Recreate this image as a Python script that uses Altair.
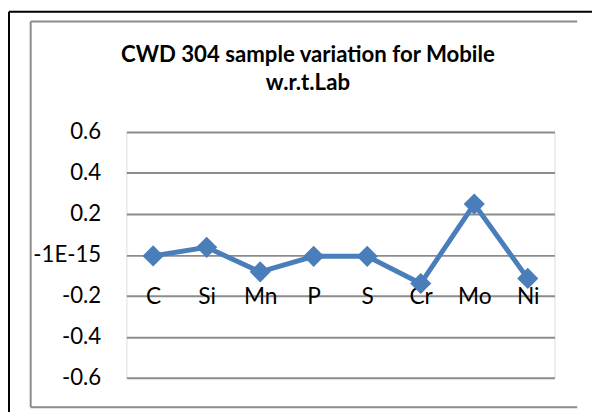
import altair as alt
import pandas as pd

# ---- data ----
elements = ["C", "Si", "Mn", "P", "S", "Cr", "Mo", "Ni"]
variation = [-0.005, 0.037, -0.083, -0.007, -0.007, -0.14, 0.248, -0.115]
y_tick_values = [-0.6, -0.4, -0.2, 0.0, 0.2, 0.4, 0.6]
y_tick_labels = ["-0.6", "-0.4", "-0.2", "-1E-15", "0.2", "0.4", "0.6"]
title_lines = ["CWD 304 sample variation for Mobile", "w.r.t.Lab"]

df = pd.DataFrame({"element": elements, "value": variation})

# label expression built from the tick lists
expr = "''"
for v, lab in zip(y_tick_values, y_tick_labels):
    expr = f"abs(datum.value - ({v})) < 1e-9 ? '{lab}' : ({expr})"

FONT = "Lato"
BLUE = "#4A7EBB"
GRID = "#8C8C8C"

W, H = 434, 249

x_enc = alt.X(
    "element:N",
    sort=elements,
    scale=alt.Scale(type="point", padding=0.5),
    axis=alt.Axis(
        title=None, domain=False, ticks=False, tickSize=0, grid=False,
        labelAngle=0, labelFont=FONT, labelFontSize=23, labelColor="black",
        labelBaseline="top", labelPadding=0, offset=-93,
    ),
)
y_enc = alt.Y(
    "value:Q",
    scale=alt.Scale(domain=[-0.6, 0.6], nice=False, zero=False),
    axis=alt.Axis(
        title=None, domain=False, ticks=False, tickSize=0,
        values=y_tick_values, labelExpr=expr,
        labelFont=FONT, labelFontSize=22.5, labelColor="black",
        labelPadding=26, grid=True, gridColor=GRID, gridWidth=2,
    ),
)

line = alt.Chart(df).mark_line(color=BLUE, strokeWidth=5).encode(x=x_enc, y=y_enc)
points = alt.Chart(df).mark_point(
    shape="diamond", filled=True, color=BLUE, size=460, opacity=1
).encode(x=alt.X("element:N", sort=elements), y="value:Q")

one = alt.InlineData(values=[{"k": 1}])

def rule(x, x2, y, y2, color, w):
    return alt.Chart(one).mark_rule(color=color, strokeWidth=w).encode(
        x=alt.value(x), x2=alt.value(x2), y=alt.value(y), y2=alt.value(y2)
    )

frames = [
    rule(-119, 472, -122, -122, "black", 2),   # outer black top
    rule(-119, -119, -122, 290, "black", 2),   # outer black left
    rule(-97, 457, -112, -112, GRID, 2),       # gray top
    rule(-97, -97, -112, 279, GRID, 2),        # gray left
    rule(-97, 457, 279, 279, GRID, 2),         # gray bottom
]

chart = alt.layer(line, points, *frames).properties(
    width=W,
    height=H,
    title=alt.TitleParams(
        text=title_lines, font=FONT, fontSize=22.5, fontWeight="bold",
        color="black", anchor="middle", frame="group", dx=-33,
        offset=-108, lineHeight=29, baseline="bottom",
    ),
    autosize=alt.AutoSizeParams(type="none"),
    padding={"left": 120, "top": 123, "right": 38, "bottom": 32},
).configure_view(stroke=None).configure(background="white")

chart.save("out.html", embed_options={"renderer": "svg", "actions": False})
